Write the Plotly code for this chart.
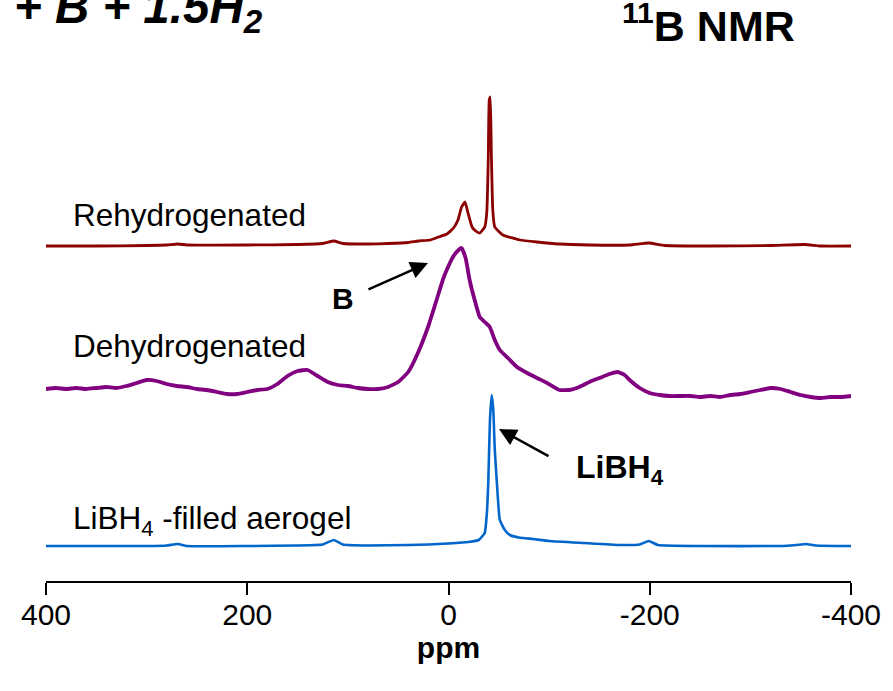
import plotly.graph_objects as go

# ---- 11B MAS NMR spectra (chemical shift in ppm, intensity in arbitrary units) ----
# Rehydrogenated sample
rehyd_ppm = [400, 350, 300, 280, 269, 260, 200, 150, 125, 114, 105, 80, 60, 40, 30, 18, 10, 1.5,
             -5, -9.4, -13, -16.4, -19.4, -23.4, -27, -31, -36, -38, -39.5, -40.5, -41.5, -42.5,
             -44, -46, -54, -71, -88, -110, -140, -180, -199, -215, -260, -320, -354, -370, -400]
rehyd_int = [0, 0, 0.5, 1, 2, 1, 1, 1.5, 2.5, 5, 2.5, 2, 2.5, 3.5, 5, 6, 9, 12,
             18, 26, 39, 44, 33, 19, 15, 13, 19, 33, 86, 146, 149, 96,
             36, 19, 11, 6, 4, 2, 1, 1, 3, 0.5, 0, 0.5, 1.5, 0, 0]

# Dehydrogenated sample
dehyd_ppm = [400, 390, 380, 370, 360, 350, 340, 330, 320, 310, 300, 290, 280, 270, 260, 250,
             240, 230, 220, 210, 200, 190, 180, 170, 160, 150, 140, 130, 120, 110, 100, 90,
             80, 70, 60, 50, 40, 30, 20, 10, 5, 0, -5, -10, -13, -17, -21, -26, -31, -36,
             -41, -46, -51, -60, -68, -80, -90, -98, -110, -120, -130, -140, -150, -160,
             -168, -175, -180, -190, -200, -210, -220, -230, -240, -250, -260, -270, -280,
             -290, -300, -310, -320, -330, -340, -350, -360, -370, -380, -390, -400]
dehyd_int = [11, 12, 11, 12, 11, 12, 13, 12, 14, 17, 20, 19, 16, 14, 13, 11,
             10, 8, 6, 6, 8, 10, 11, 16, 24, 29, 30, 24, 18, 15, 14, 12,
             11, 11, 13, 18, 28, 48, 74, 106, 122, 134, 144, 150, 152, 142, 120, 100, 83, 78,
             73, 60, 50, 41, 33, 26, 21, 17, 10, 10, 13, 18, 22, 26,
             28, 25, 20, 12, 7, 5, 4, 4, 4, 3, 4, 3, 5,
             6, 8, 10, 12, 11, 8, 5, 3, 2, 3, 3, 4]

# LiBH4-filled aerogel
aerogel_ppm = [400, 300, 280, 269, 260, 200, 150, 125, 114, 105, 80, 40, 20, 0, -20, -30, -36,
               -38, -39.6, -41.2, -42.9, -44.5, -46, -47.9, -51, -56, -61, -70, -84, -100,
               -134, -170, -190, -199, -208, -250, -330, -345, -355, -365, -400]
aerogel_int = [0, 0, 0.5, 2, 0, 0, 0.5, 1.5, 6, 1.5, 0.5, 1, 1.5, 2.5, 4, 6, 13,
               31, 66, 126, 151, 136, 96, 66, 26, 16, 11, 8.5, 7, 5,
               3, 1, 1.5, 5, 1, 0, 0, 1, 2, 0.5, 0]

# vertical stacking of the three spectra
stack_offset = {"Rehydrogenated": 335, "Dehydrogenated": 181, "Aerogel": 35}

tick_vals = [400, 200, 0, -200, -400]
tick_text = ["400", "200", "0", "-200", "-400"]

FONT = "Liberation Sans, Arial, sans-serif"
W, H = 893, 691
L, R, T, B = 46, 42, 60, 110


def paper(x_px, y_px):
    """Convert a figure pixel position to paper coordinates."""
    pw, ph = W - L - R, H - T - B
    return (x_px - L) / pw, (H - B - y_px) / ph


fig = go.Figure()

series = [
    (rehyd_ppm, rehyd_int, stack_offset["Rehydrogenated"], "#8b0000", 2.8),
    (dehyd_ppm, dehyd_int, stack_offset["Dehydrogenated"], "#800080", 3.8),
    (aerogel_ppm, aerogel_int, stack_offset["Aerogel"], "#0066cc", 2.6),
]
for ppm, inten, off, color, lw in series:
    fig.add_trace(go.Scatter(
        x=ppm, y=[v + off for v in inten], mode="lines",
        line=dict(color=color, width=lw, shape="spline", smoothing=0.4),
        hoverinfo="skip", showlegend=False,
    ))

annotations = []


def text_at(x_px, y_px, text, size, bold=False, italic=False, xanchor="left"):
    px_, py_ = paper(x_px, y_px)
    style = text
    if bold:
        style = f"<b>{style}</b>"
    if italic:
        style = f"<i>{style}</i>"
    annotations.append(dict(
        x=px_, y=py_, xref="paper", yref="paper", text=style, showarrow=False,
        xanchor=xanchor, yanchor="middle", font=dict(family=FONT, size=size, color="black"),
    ))


def arrow(head, tail):
    hx, hy = paper(*head)
    annotations.append(dict(
        x=hx, y=hy, xref="paper", yref="paper", text="", showarrow=True,
        ax=tail[0] - head[0], ay=tail[1] - head[1], axref="pixel", ayref="pixel",
        arrowhead=2, arrowsize=1.4, arrowwidth=2.5, arrowcolor="black",
    ))


text_at(12, 10, "+ B + 1.5H<sub>2</sub>", 47.5, bold=True, italic=True)
text_at(620, 23, "<sup>11</sup>B NMR", 43, bold=True)
text_at(71, 215, "Rehydrogenated", 31.5)
text_at(71, 346, "Dehydrogenated", 31.5)
text_at(71, 520, "LiBH<sub>4</sub> -filled aerogel", 31.5)
text_at(343, 298, "B", 30, bold=True, xanchor="center")
text_at(574, 469, "LiBH<sub>4</sub>", 32, bold=True)
arrow((428, 263), (367, 290))
arrow((499, 429), (550, 457))

fig.update_layout(
    width=W, height=H,
    margin=dict(l=L, r=R, t=T, b=B, pad=0),
    paper_bgcolor="white", plot_bgcolor="white",
    font=dict(family=FONT, color="black"),
    annotations=annotations,
    xaxis=dict(
        range=[400, -400], showgrid=False, zeroline=False,
        showline=True, linecolor="black", linewidth=2,
        ticks="outside", ticklen=12, tickwidth=2, tickcolor="black",
        tickvals=tick_vals, ticktext=tick_text, ticklabelstandoff=-6,
        tickfont=dict(family=FONT, size=30, color="black"),
        title=dict(text="<b>ppm</b>", font=dict(family=FONT, size=30, color="black"), standoff=4),
    ),
    yaxis=dict(range=[0, H - T - B], visible=False, showgrid=False, zeroline=False),
)

fig.write_html("out.html")
